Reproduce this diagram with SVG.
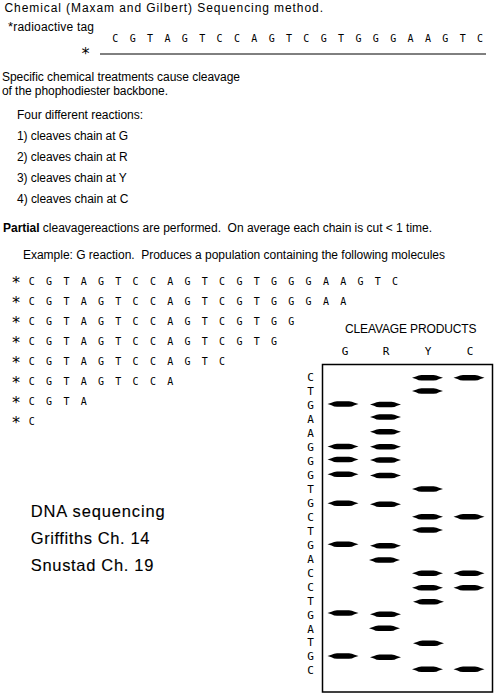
<svg xmlns="http://www.w3.org/2000/svg" xmlns:xlink="http://www.w3.org/1999/xlink" width="496" height="694" viewBox="0 0 496 694">
<style>
.t{font-family:"Liberation Sans",Arial,sans-serif;font-size:12px;fill:#000}
.m{font-family:"DejaVu Sans Mono",monospace;font-size:10px;fill:#000}
.g{font-family:"DejaVu Sans Mono",monospace;font-size:11px;fill:#000;text-anchor:middle}
.s{font-family:"DejaVu Sans Mono",monospace;font-size:16px;fill:#000;text-anchor:middle}
.big{font-family:"Liberation Sans",Arial,sans-serif;font-size:16.5px;fill:#000;stroke:#000;stroke-width:0.12px}
.row{letter-spacing:11.28px}
</style>
<defs>
<path id="band" d="M-15.5,0 L-11.5,-1.3 Q-9,-2.8 -6,-2.8 L6,-2.8 Q9,-2.8 11.5,-1.3 L15.5,0 L11.5,1.3 Q9,2.8 6,2.8 L-6,2.8 Q-9,2.8 -11.5,1.3 Z" fill="#000"/>
</defs>
<rect width="496" height="694" fill="#fff"/>
<g id="header">
<text class="t" x="4.5" y="12" font-size="12.5" textLength="318.5" lengthAdjust="spacing">Chemical (Maxam and Gilbert) Sequencing method.</text>
<text class="t" x="8" y="31" font-size="11" textLength="86" lengthAdjust="spacing"><tspan font-size="13">*</tspan>radioactive tag</text>
<text class="m" x="112.3" y="42.3" style="letter-spacing:11.35px">CGTAGTCCAGTCGTGGGAAGTC</text>
<text class="s" x="85.5" y="59">*</text>
<line x1="100" y1="54" x2="486" y2="54" stroke="#000" stroke-width="1"/>
</g>
<g id="explanation">
<text class="t" x="2" y="81" textLength="238" lengthAdjust="spacing">Specific chemical treatments cause cleavage</text>
<text class="t" x="2" y="95" textLength="166" lengthAdjust="spacing">of the phophodiester backbone.</text>
<text class="t" x="17" y="119" textLength="126" lengthAdjust="spacing">Four different reactions:</text>
<text class="t" x="17" y="140" textLength="111" lengthAdjust="spacing">1) cleaves chain at G</text>
<text class="t" x="17" y="161" textLength="110.7" lengthAdjust="spacing">2) cleaves chain at R</text>
<text class="t" x="17" y="182" textLength="109.7" lengthAdjust="spacing">3) cleaves chain at Y</text>
<text class="t" x="17" y="203" textLength="111.3" lengthAdjust="spacing">4) cleaves chain at C</text>
<text class="t" x="3" y="232" xml:space="preserve" textLength="429" lengthAdjust="spacing"><tspan font-weight="bold">Partial</tspan> cleavagereactions are performed.  On average each chain is cut &lt; 1 time.</text>
<text class="t" x="23" y="259" xml:space="preserve" textLength="422" lengthAdjust="spacing">Example: G reaction.  Produces a population containing the following molecules</text>
</g>
<g id="molecules">
<text class="s" x="16" y="288">*</text>
<text class="m row" x="28.8" y="284.5">CGTAGTCCAGTCGTGGGAAGTC</text>
<text class="s" x="16" y="308">*</text>
<text class="m row" x="28.8" y="304.5">CGTAGTCCAGTCGTGGGAA</text>
<text class="s" x="16" y="328">*</text>
<text class="m row" x="28.8" y="324.5">CGTAGTCCAGTCGTGG</text>
<text class="s" x="16" y="348">*</text>
<text class="m row" x="28.8" y="344.5">CGTAGTCCAGTCGTG</text>
<text class="s" x="16" y="368">*</text>
<text class="m row" x="28.8" y="364.5">CGTAGTCCAGTC</text>
<text class="s" x="16" y="388">*</text>
<text class="m row" x="28.8" y="384.5">CGTAGTCCA</text>
<text class="s" x="16" y="408">*</text>
<text class="m row" x="28.8" y="404.5">CGTA</text>
<text class="s" x="16" y="428">*</text>
<text class="m row" x="28.8" y="424.5">C</text>
</g>
<g id="references">
<text class="big" x="30.7" y="517" textLength="134" lengthAdjust="spacing">DNA sequencing</text>
<text class="big" x="30.7" y="544" textLength="118.7" lengthAdjust="spacing">Griffiths Ch. 14</text>
<text class="big" x="30.7" y="571" textLength="122.7" lengthAdjust="spacing">Snustad Ch. 19</text>
</g>
<g id="gel">
<text class="t" x="345" y="333" textLength="131.5" lengthAdjust="spacing">CLEAVAGE PRODUCTS</text>
<text class="g" x="345" y="355" font-size="11.5">G</text>
<text class="g" x="386" y="355" font-size="11.5">R</text>
<text class="g" x="428" y="355" font-size="11.5">Y</text>
<text class="g" x="470" y="355" font-size="11.5">C</text>
<rect x="322.5" y="364.5" width="170" height="327.5" fill="none" stroke="#000" stroke-width="1.5"/>
<g id="gel-letters">
<text class="g" x="310.5" y="381">C</text>
<text class="g" x="310.5" y="395">T</text>
<text class="g" x="310.5" y="408.9">G</text>
<text class="g" x="310.5" y="422.9">A</text>
<text class="g" x="310.5" y="436.9">A</text>
<text class="g" x="310.5" y="450.9">G</text>
<text class="g" x="310.5" y="464.8">G</text>
<text class="g" x="310.5" y="478.8">G</text>
<text class="g" x="310.5" y="492.8">T</text>
<text class="g" x="310.5" y="506.7">G</text>
<text class="g" x="310.5" y="520.7">C</text>
<text class="g" x="310.5" y="534.7">T</text>
<text class="g" x="310.5" y="548.6">G</text>
<text class="g" x="310.5" y="562.6">A</text>
<text class="g" x="310.5" y="576.6">C</text>
<text class="g" x="310.5" y="590.6">C</text>
<text class="g" x="310.5" y="604.5">T</text>
<text class="g" x="310.5" y="618.5">G</text>
<text class="g" x="310.5" y="632.5">A</text>
<text class="g" x="310.5" y="646.4">T</text>
<text class="g" x="310.5" y="660.4">G</text>
<text class="g" x="310.5" y="674.4">C</text>
</g>
<g id="lane-G">
<use xlink:href="#band" x="343" y="404"/>
<use xlink:href="#band" x="343" y="446.5"/>
<use xlink:href="#band" x="343" y="459.5"/>
<use xlink:href="#band" x="343" y="474.3"/>
<use xlink:href="#band" x="343" y="503.3"/>
<use xlink:href="#band" x="343" y="544.3"/>
<use xlink:href="#band" x="343" y="613"/>
<use xlink:href="#band" x="343" y="656"/>
</g>
<g id="lane-R">
<use xlink:href="#band" x="385.5" y="404.5"/>
<use xlink:href="#band" x="385.5" y="417"/>
<use xlink:href="#band" x="385.5" y="431.7"/>
<use xlink:href="#band" x="385.5" y="446.7"/>
<use xlink:href="#band" x="385.5" y="460"/>
<use xlink:href="#band" x="385.5" y="475.5"/>
<use xlink:href="#band" x="385.5" y="504.3"/>
<use xlink:href="#band" x="385.5" y="545.7"/>
<use xlink:href="#band" x="384.5" y="560"/>
<use xlink:href="#band" x="385.5" y="614.3"/>
<use xlink:href="#band" x="384.5" y="628.3"/>
<use xlink:href="#band" x="385.5" y="657.3"/>
</g>
<g id="lane-Y">
<use xlink:href="#band" x="427.5" y="377.7"/>
<use xlink:href="#band" x="427.5" y="391"/>
<use xlink:href="#band" x="427.5" y="489"/>
<use xlink:href="#band" x="427.5" y="516.7"/>
<use xlink:href="#band" x="427.5" y="530"/>
<use xlink:href="#band" x="427.5" y="573.3"/>
<use xlink:href="#band" x="427.5" y="587.7"/>
<use xlink:href="#band" x="428.5" y="601.7"/>
<use xlink:href="#band" x="428.5" y="643.3"/>
<use xlink:href="#band" x="427.5" y="669.3"/>
</g>
<g id="lane-C">
<use xlink:href="#band" x="469" y="377.7"/>
<use xlink:href="#band" x="469" y="516.7"/>
<use xlink:href="#band" x="469" y="573.3"/>
<use xlink:href="#band" x="469" y="587.7"/>
<use xlink:href="#band" x="469" y="669.3"/>
</g>
</g>
<g id="connectors"></g>
</svg>
